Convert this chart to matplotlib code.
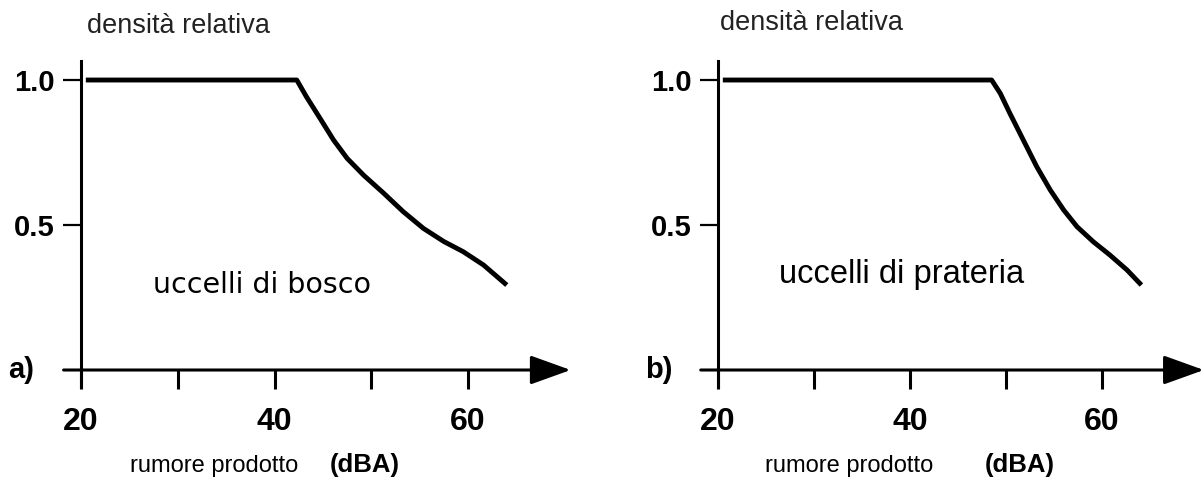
import matplotlib
matplotlib.use('Agg')
import matplotlib.pyplot as plt

# ---------- dati ----------
# a) uccelli di bosco
bosco_x = [20.5, 42.3, 43.3, 44.7, 46.1, 47.5, 49.2, 51.3, 53.3, 55.4, 57.5, 59.5, 61.6, 64.0]
bosco_y = [1.0, 1.0, 0.942, 0.868, 0.793, 0.730, 0.672, 0.609, 0.546, 0.488, 0.443, 0.408, 0.362, 0.293]
# b) uccelli di prateria
prateria_x = [20.5, 48.5, 49.4, 50.4, 51.8, 53.2, 54.6, 56.0, 57.4, 59.1, 60.8, 62.6, 64.1]
prateria_y = [1.0, 1.0, 0.954, 0.885, 0.793, 0.701, 0.621, 0.552, 0.494, 0.442, 0.397, 0.345, 0.293]

x_ticks = [20, 30, 40, 50, 60]
x_ticklabels = ['20', '', '40', '', '60']
y_ticks = [0.5, 1.0]
y_ticklabels = ['0.5', '1.0']

plt.rcParams['font.family'] = ['Liberation Sans', 'DejaVu Sans']

fig = plt.figure(figsize=(12.04, 4.82), dpi=100)
fig.patch.set_facecolor('white')

# posizioni degli assi (frazioni della figura)
ax_a = fig.add_axes([0.0271, -0.0083, 0.4581, 0.9927])
ax_b = fig.add_axes([0.5565, -0.0083, 0.4545, 0.9927])

panels = [
    (ax_a, bosco_x, bosco_y, 'a)', 'uccelli di bosco', 'DejaVu Sans', 20.5,
     (27.4, 0.266), (20.6, 1.162), 25.06, 45.74),
    (ax_b, prateria_x, prateria_y, 'b)', 'uccelli di prateria', 'Liberation Sans', 23.5,
     (26.4, 0.30), (20.2, 1.172), 24.9, 47.8),
]

for ax, xs, ys, tag, label, lab_font, lab_size, lab_pos, tit_pos, rum_x, dba_x in panels:
    ax.set_xlim(15, 72)
    ax.set_ylim(-0.4, 1.25)
    ax.patch.set_alpha(0)

    ax.plot(xs, ys, color='black', lw=3.5, solid_capstyle='butt', zorder=3)

    # assi
    for s in ['top', 'right']:
        ax.spines[s].set_visible(False)
    ax.spines['left'].set_position(('data', 20))
    ax.spines['left'].set_bounds(-0.06, 1.066)
    ax.spines['left'].set_linewidth(2.2)
    ax.spines['bottom'].set_position(('data', 0))
    ax.spines['bottom'].set_visible(False)
    ax.annotate('', xy=(70.6, 0), xytext=(18.2, 0),
                arrowprops=dict(arrowstyle='-|>,head_length=1.25,head_width=0.45',
                                mutation_scale=20, lw=2.2, color='black',
                                shrinkA=0, shrinkB=0))

    ax.set_xticks(x_ticks)
    ax.set_xticklabels(x_ticklabels, fontsize=23, fontweight='bold')
    ax.set_yticks(y_ticks)
    ax.set_yticklabels(y_ticklabels, fontsize=21, fontweight='bold')
    ax.tick_params(axis='x', direction='out', length=13.5, width=2.2, pad=13)
    ax.tick_params(axis='y', direction='out', length=13, width=1.6, pad=6)

    # testi
    ax.text(tit_pos[0], tit_pos[1], 'densità relativa', fontsize=19.5, color='#222222',
            ha='left', va='baseline')
    ax.text(lab_pos[0], lab_pos[1], label, fontsize=lab_size, family=lab_font,
            ha='left', va='baseline')
    ax.text(rum_x, -0.352, 'rumore prodotto', fontsize=17, ha='left', va='baseline')
    ax.text(dba_x, -0.352, '(dBA)', fontsize=18.5, fontweight='bold', ha='left',
            va='baseline')
    ax.text(12.45, 0.0, tag, fontsize=21, fontweight='bold', ha='left', va='center')

plt.savefig('out.png', dpi=100)
